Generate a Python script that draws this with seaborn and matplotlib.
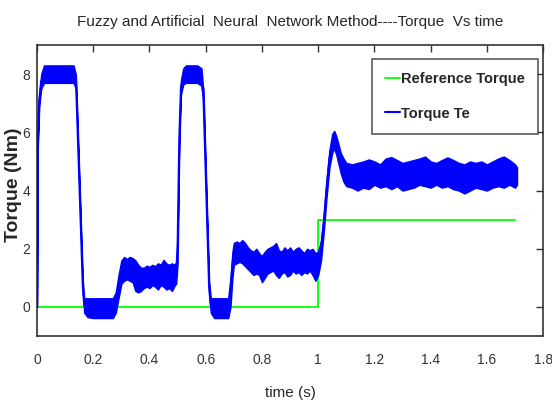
import matplotlib
matplotlib.use('Agg')
import matplotlib.pyplot as plt
import seaborn as sns
import pandas as pd

# Reference torque step (s, Nm)
ref_time = [0.0, 1.0, 1.7]
ref_torque = [0.0, 3.0, 3.0]

# Torque Te: lower / upper edge of the noisy band
te_time = [0.000, 0.003, 0.008, 0.015, 0.025, 0.05, 0.08, 0.11, 0.13, 0.138,
           0.140, 0.163, 0.168, 0.18, 0.20, 0.24, 0.27, 0.28, 0.29, 0.30,
           0.31, 0.32, 0.33, 0.34, 0.35, 0.36, 0.37, 0.38, 0.39, 0.40,
           0.41, 0.42, 0.43, 0.44, 0.45, 0.46, 0.47, 0.48, 0.49, 0.495,
           0.500, 0.506, 0.512, 0.520, 0.53, 0.55, 0.57, 0.585, 0.590, 0.592,
           0.612, 0.618, 0.63, 0.66, 0.68, 0.688, 0.695, 0.70, 0.71, 0.72,
           0.73, 0.74, 0.75, 0.76, 0.77, 0.78, 0.79, 0.80, 0.81, 0.82,
           0.83, 0.84, 0.85, 0.86, 0.87, 0.88, 0.89, 0.90, 0.91, 0.92,
           0.93, 0.94, 0.95, 0.96, 0.97, 0.98, 0.99, 1.00, 1.01, 1.02,
           1.03, 1.04, 1.05, 1.057, 1.065, 1.08, 1.09, 1.10, 1.12, 1.14,
           1.16, 1.18, 1.20, 1.22, 1.24, 1.26, 1.28, 1.30, 1.32, 1.34,
           1.36, 1.38, 1.40, 1.42, 1.44, 1.46, 1.48, 1.50, 1.52, 1.54,
           1.56, 1.58, 1.60, 1.62, 1.64, 1.66, 1.68, 1.70, 1.707]
te_low = [0.0, 5.5, 6.9, 7.5, 7.7, 7.7, 7.7, 7.7, 7.7, 7.5,
          7.2, 0.5, -0.2, -0.35, -0.38, -0.38, -0.38, -0.2, 0.3, 0.8,
          0.9, 0.95, 0.9, 0.85, 0.55, 0.5, 0.55, 0.65, 0.7, 0.65,
          0.75, 0.7, 0.6, 0.75, 0.7, 0.6, 0.65, 0.55, 0.75, 0.8,
          1.5, 5.5, 7.3, 7.65, 7.7, 7.7, 7.7, 7.6, 7.2, 7.0,
          0.5, -0.2, -0.38, -0.38, -0.38, 0.0, 1.0, 1.45, 1.5, 1.55,
          1.5, 1.4, 1.3, 1.2, 1.1, 1.15, 1.1, 0.85, 1.0, 1.15,
          1.2, 1.25, 1.1, 1.0, 1.15, 1.2, 1.05, 1.1, 1.25, 1.15,
          1.2, 1.1, 1.2, 1.15, 1.25, 1.1, 0.9, 1.1, 1.6, 2.6,
          3.8, 4.8, 5.3, 5.45, 5.2, 4.6, 4.3, 4.15, 4.1, 4.0,
          4.1, 4.05, 4.2, 4.1, 4.15, 4.05, 4.15, 4.0, 4.05, 4.1,
          4.2, 4.15, 4.1, 4.2, 4.1, 4.15, 4.05, 4.0, 3.9, 4.0,
          4.1, 4.05, 4.0, 4.1, 4.15, 4.1, 4.2, 4.1, 4.2]
te_high = [0.0, 5.8, 7.3, 8.0, 8.3, 8.3, 8.3, 8.3, 8.3, 8.0,
           7.6, 0.9, 0.3, 0.3, 0.3, 0.3, 0.3, 0.5, 1.1, 1.6,
           1.72, 1.65, 1.72, 1.68, 1.6, 1.45, 1.35, 1.35, 1.42, 1.38,
           1.45, 1.4, 1.5, 1.45, 1.62, 1.5, 1.45, 1.5, 1.45, 1.55,
           2.5, 6.0, 7.8, 8.2, 8.3, 8.3, 8.3, 8.2, 7.6, 7.5,
           0.9, 0.3, 0.3, 0.3, 0.3, 1.0, 1.9, 2.2, 2.25, 2.2,
           2.3, 2.2, 2.05, 1.95, 1.9, 2.0, 1.85, 1.75, 1.9, 2.0,
           2.05, 2.1, 2.2, 1.95, 1.9, 2.05, 1.95, 2.05, 1.9, 2.0,
           2.05, 1.95, 1.85, 2.0, 1.95, 2.0, 1.85, 1.9, 2.3, 3.2,
           4.4, 5.4, 5.95, 6.05, 5.85, 5.3, 5.1, 4.95, 4.9, 4.95,
           5.0, 5.07, 5.0, 4.9, 5.1, 5.15, 5.05, 4.95, 5.0, 5.05,
           5.1, 5.17, 5.0, 4.95, 5.05, 5.14, 5.05, 4.95, 4.9, 5.0,
           4.95, 5.0, 4.9, 5.0, 5.1, 5.17, 5.05, 4.9, 4.8]

x_ticks = [0, 0.2, 0.4, 0.6, 0.8, 1, 1.2, 1.4, 1.6, 1.8]
x_tick_labels = ['0', '0.2', '0.4', '0.6', '0.8', '1', '1.2', '1.4', '1.6', '1.8']
y_ticks = [0, 2, 4, 6, 8]

sns.set_style('white')
plt.rcParams['font.family'] = ['Liberation Sans', 'DejaVu Sans']

df_te = pd.DataFrame({'time': te_time, 'low': te_low, 'high': te_high})
df_te['mid'] = (df_te['low'] + df_te['high']) / 2
df_ref = pd.DataFrame({'time': ref_time, 'torque': ref_torque})

fig = plt.figure(figsize=(5.52, 4.17), dpi=100)
ax = fig.add_axes([0.067, 0.194, 0.917, 0.698])

sns.lineplot(data=df_ref, x='time', y='torque', ax=ax, color='#00ff00',
             linewidth=1.3, drawstyle='steps-post', label='Reference Torque',
             estimator=None, zorder=2)
ax.fill_between(df_te['time'], df_te['low'], df_te['high'], color='#0000ff',
                linewidth=1.0, edgecolor='#0000ff', zorder=3)
sns.lineplot(data=df_te, x='time', y='mid', ax=ax, color='#0000ff',
             linewidth=1.5, label='Torque Te', estimator=None, zorder=3)

ax.set_xlim(0, 1.8)
ax.set_ylim(-1, 9)
ax.set_xticks(x_ticks)
ax.set_xticklabels(x_tick_labels)
ax.set_yticks(y_ticks)

ax.tick_params(direction='in', top=True, right=True, length=5, width=1,
               labelsize=10, colors='#333333', pad=12)
ax.tick_params(axis='y', pad=5)
for sp in ax.spines.values():
    sp.set_color('#333333')
    sp.set_linewidth(1.2)

ax.set_title('Fuzzy and Artificial  Neural  Network Method----Torque  Vs time',
             fontsize=11, pad=14)
ax.set_xlabel('time (s)', fontsize=11, labelpad=14)
ax.set_ylabel('Torque (Nm)', fontsize=14, fontweight='bold')
ax.yaxis.set_label_coords(-0.03, 0.52)

leg = ax.legend(loc='upper right', bbox_to_anchor=(0.990, 0.952),
                frameon=True, fancybox=False, edgecolor='#333333',
                fontsize=10.5, handlelength=1.0, handletextpad=0.1,
                labelspacing=1.4, borderpad=0.9, borderaxespad=0)
leg.get_frame().set_linewidth(1.2)
for txt in leg.get_texts():
    txt.set_fontweight('bold')

fig.savefig('out.png', dpi=100)
